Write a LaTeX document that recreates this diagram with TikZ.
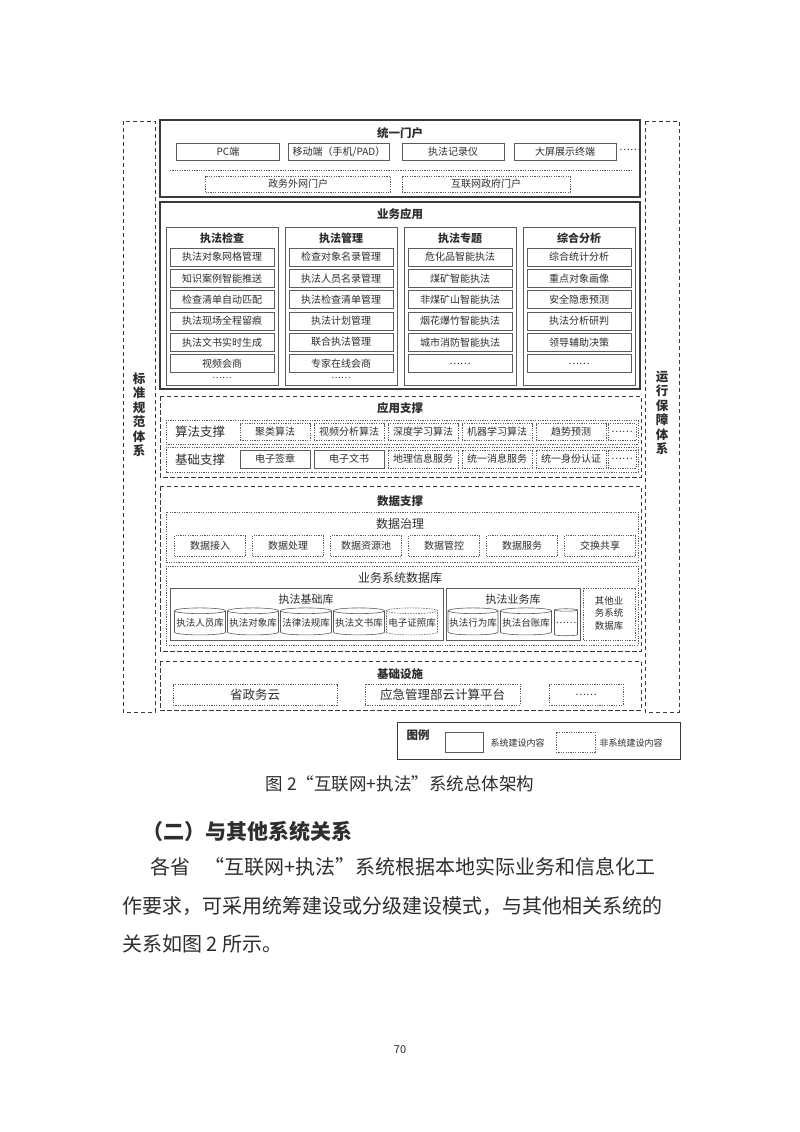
\documentclass[tikz,border=0pt]{standalone}
\usepackage{fontspec}
\setmainfont{Noto Sans CJK SC}
\usetikzlibrary{shapes.geometric}
\XeTeXlinebreaklocale "zh"
\XeTeXlinebreakskip=0pt plus 4pt

\definecolor{ink}{HTML}{2E2E2E}
\definecolor{edge}{HTML}{5C5C5C}
\definecolor{layeredge}{HTML}{3A3A3A}

\tikzset{
  layerbox/.style={draw=layeredge, line width=1.1pt},
  dashlayer/.style={draw=layeredge, line width=0.9pt, dash pattern=on 4.5pt off 2.5pt},
  sidebox/.style={draw=layeredge, line width=0.8pt, dash pattern=on 4pt off 3pt},
  dotframe/.style={draw=edge, line width=0.6pt, dash pattern=on 1.2pt off 1.2pt},
  colbox/.style={draw=edge, line width=0.8pt},
  item/.style={draw=edge, line width=0.7pt, inner sep=0pt, text=ink, font=\fontsize{10}{12}\selectfont},
  ditem/.style={item, dash pattern=on 1.2pt off 1.2pt},
  cyl/.style={cylinder, shape border rotate=90, aspect=0.12, draw=edge, line width=0.6pt,
    minimum width=51pt, minimum height=27pt, inner sep=0pt, text=ink, font=\fontsize{9.5}{11}\selectfont},
  ttl/.style={text=ink, font=\fontsize{11.5}{13}\selectfont\bfseries},
  subttl/.style={text=ink, font=\fontsize{12}{14}\selectfont},
  coltl/.style={text=ink, font=\fontsize{11}{13}\selectfont\bfseries},
  rowtl/.style={text=ink, font=\fontsize{12.5}{14}\selectfont},
  sidetxt/.style={text=ink, align=center, font=\fontsize{12.5}{14.5}\selectfont\bfseries},
  body/.style={text=ink, inner sep=0pt, anchor=west, font=\fontsize{20}{24}\selectfont},
}

\begin{document}
\begin{tikzpicture}[x=1pt, y=-1pt]
\useasboundingbox[fill=white] (0,0) rectangle (800,1132);

% side systems
\draw[sidebox] (123,121) rectangle (155,712);
\draw[sidebox] (645,121) rectangle (679,712);
\node[sidetxt] (std) at (139,415) {标\\准\\规\\范\\体\\系};
\node[sidetxt] (ops) at (662,413) {运\\行\\保\\障\\体\\系};

% portal
\draw[layerbox] (160,120) rectangle (640,197);
\node[ttl] (portal) at (400,133) {统一门户};
\node[item, minimum width=103pt, minimum height=17pt] (pc) at (228,152) {PC端};
\node[item, minimum width=101pt, minimum height=17pt] (mob) at (339,152) {移动端（手机/PAD）};
\node[item, minimum width=102pt, minimum height=17pt] (rec) at (453,152) {执法记录仪};
\node[item, minimum width=102pt, minimum height=17pt] (scr) at (565,152) {大屏展示终端};
\node[text=ink, font=\fontsize{10}{12}\selectfont] (pmore) at (630,150) {……};
\coordinate (divl) at (170,170);
\coordinate (divr) at (632,170);
\draw[dotframe] (divl) -- (divr);
\node[ditem, minimum width=185pt, minimum height=16pt] (gov) at (298,184) {政务外网门户};
\node[ditem, minimum width=168pt, minimum height=16pt] (web) at (486,184) {互联网政府门户};

% business applications
\draw[layerbox] (160,202) rectangle (640,389);
\node[ttl] (biz) at (400,214) {业务应用};
\foreach \cx/\head/\list [count=\i] in {
  222/执法检查/{执法对象网格管理,知识案例智能推送,检查清单自动匹配,执法现场全程留痕,执法文书实时生成,视频会商},
  341/执法管理/{检查对象名录管理,执法人员名录管理,执法检查清单管理,执法计划管理,联合执法管理,专家在线会商},
  460/执法专题/{危化品智能执法,煤矿智能执法,非煤矿山智能执法,烟花爆竹智能执法,城市消防智能执法,……},
  579/综合分析/{综合统计分析,重点对象画像,安全隐患预测,执法分析研判,领导辅助决策,……}} {
  \draw[colbox] (\cx-56,227) rectangle (\cx+56,385);
  \node[coltl] (col\i) at (\cx,238) {\head};
  \foreach \t [count=\j] in \list
    \node[item, minimum width=104pt, minimum height=18pt] (b\i-\j) at (\cx,257+21.3*\j-21.3) {\t};
}
\node[text=ink, font=\fontsize{9}{10}\selectfont] (bmore1) at (222,378) {……};
\node[text=ink, font=\fontsize{9}{10}\selectfont] (bmore2) at (341,378) {……};

% application support
\draw[dashlayer] (160,396) rectangle (641,477);
\node[ttl] (sup) at (400,408) {应用支撑};
\draw[dotframe] (166,420) rectangle (638,444);
\draw[dotframe] (166,447) rectangle (638,472);
\node[rowtl] (alg) at (200,432) {算法支撑};
\node[rowtl] (base) at (200,460) {基础支撑};
\foreach \t [count=\i] in {聚类算法,视频分析算法,深度学习算法,机器学习算法,趋势预测}
  \node[ditem, minimum width=70pt, minimum height=17pt] (a\i) at (275+74*\i-74,432) {\t};
\node[ditem, minimum width=28pt, minimum height=17pt] (amore) at (622,432) {……};
\foreach \t [count=\i] in {电子签章,电子文书}
  \node[item, minimum width=70pt, minimum height=18pt] (s\i) at (275+74*\i-74,459) {\t};
\foreach \t [count=\i from 3] in {地理信息服务,统一消息服务,统一身份认证}
  \node[ditem, minimum width=70pt, minimum height=18pt] (s\i) at (275+74*\i-74,459) {\t};
\node[ditem, minimum width=28pt, minimum height=18pt] (smore) at (622,459) {……};

% data support
\draw[dashlayer] (160,486) rectangle (641,651);
\node[ttl] (data) at (400,501) {数据支撑};
\draw[dotframe] (166,512) rectangle (638,562);
\node[subttl] (gov2) at (400,524) {数据治理};
\foreach \t [count=\i] in {数据接入,数据处理,数据资源池,数据管控,数据服务,交换共享}
  \node[ditem, minimum width=71pt, minimum height=21pt] (d\i) at (210+78*\i-78,546) {\t};
\draw[dotframe] (166,566) rectangle (638,645);
\node[subttl] (db) at (400,578) {业务系统数据库};
\draw[colbox, line width=0.7pt] (170,588) rectangle (443,640);
\node[text=ink, font=\fontsize{11}{13}\selectfont] (basedb) at (306,599) {执法基础库};
\foreach \t [count=\i] in {执法人员库,执法对象库,法律法规库,执法文书库}
  \node[cyl] (c\i) at (200+53*\i-53,623) {\t};
\node[cyl, dash pattern=on 1.5pt off 1.2pt] (c5) at (412,623) {电子证照库};
\draw[colbox, line width=0.7pt] (446,588) rectangle (580,640);
\node[text=ink, font=\fontsize{11}{13}\selectfont] (bizdb) at (513,599) {执法业务库};
\node[cyl, minimum width=50pt] (e1) at (473,623) {执法行为库};
\node[cyl] (e2) at (526,623) {执法台账库};
\node[cyl, minimum width=23pt] (e3) at (566,623) {……};
\draw[dotframe] (583,588) rectangle (635,640);
\node[text=ink, align=center, font=\fontsize{9.5}{12.5}\selectfont] (other) at (609,613) {其他业\\务系统\\数据库};

% infrastructure
\draw[dashlayer] (160,661) rectangle (641,710);
\node[ttl] (infra) at (400,674) {基础设施};
\node[ditem, minimum width=164pt, minimum height=21pt, font=\fontsize{12.5}{14}\selectfont] (cloud) at (255,694.5) {省政务云};
\node[ditem, minimum width=155pt, minimum height=21pt, font=\fontsize{12.5}{14}\selectfont] (mem) at (442.5,694.5) {应急管理部云计算平台};
\node[ditem, minimum width=74pt, minimum height=21pt] (imore) at (586,694.5) {……};

% legend
\draw[layerbox, line width=0.9pt] (397,722) rectangle (680,759);
\node[ttl] (leg) at (418,735) {图例};
\node[item, minimum width=38pt, minimum height=20pt] (legsys) at (464,742) {};
\node[text=ink, anchor=west, font=\fontsize{9}{10}\selectfont] (legsyst) at (487,743) {系统建设内容};
\node[ditem, minimum width=39pt, minimum height=20pt] (legnon) at (575.5,742) {};
\node[text=ink, anchor=west, font=\fontsize{9}{10}\selectfont] (legnont) at (596,743) {非系统建设内容};

% page text
\node[text=ink, font=\fontsize{17.5}{20}\selectfont] (cap) at (400,784) {图 2“互联网+执法”系统总体架构};
\node[body, font=\fontsize{21}{24}\selectfont\bfseries] (sec) at (142,831) {（二）与其他系统关系};
\node[body] (l1) at (150,867) {\hbox to 540pt{各省\hspace{14pt}“互联网+执法”系统根据本地实际业务和信息化工}};
\node[body] (l2) at (122,906) {\hbox to 568pt{作要求，可采用统筹建设或分级建设模式，与其他相关系统的}};
\node[body] (l3) at (122,944) {关系如图 2 所示。};
\node[text=ink, font=\fontsize{11}{12}\selectfont] (pg) at (400,1050) {70};
\end{tikzpicture}
\end{document}
